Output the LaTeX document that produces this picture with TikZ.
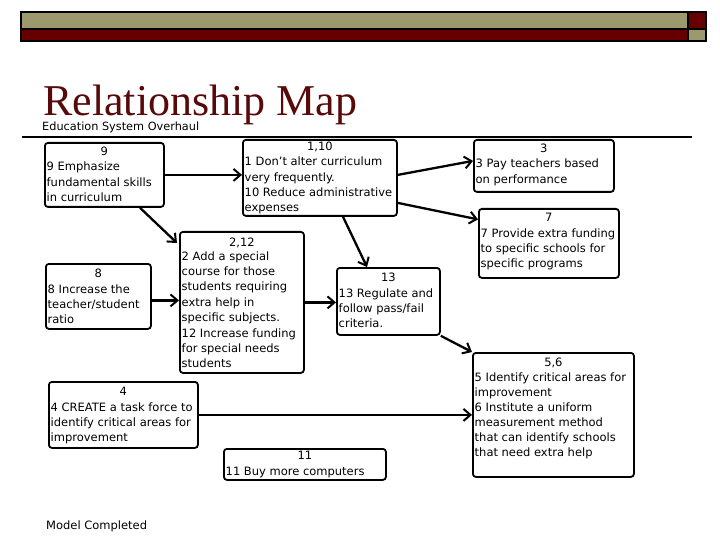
\documentclass[tikz,border=0pt]{standalone}
\usepackage{fontspec}
\setmainfont{DejaVu Sans}
\newfontfamily\titlefont{Liberation Serif}
\usetikzlibrary{arrows.meta}
\definecolor{bannerolive}{HTML}{9C9A6C}
\definecolor{bannerred}{HTML}{660000}
\definecolor{titlered}{HTML}{580A0A}
\newcommand\mybox[5]{\node[bx,anchor=north west,minimum width=#4pt,minimum height=#5pt,inner sep=0pt] (#1) at (#2,#3) {};}
\begin{document}
\begin{tikzpicture}[x=1pt,y=-1pt,
  bx/.style={draw=black,line width=1.8pt,rounded corners=3pt},
  lbl/.style={inner sep=0pt,font=\fontsize{11.5}{14}\selectfont},
  blbl/.style={lbl,yshift=-2pt},
  conn/.style={line width=2.3pt,-{Straight Barb[length=7pt,width=12pt,line width=2pt]}}]
\useasboundingbox (0,0) rectangle (720,540);
\fill[white] (0,0) rectangle (720,540);
% banner
\fill[bannerolive] (21,12) rectangle (688,29);
\fill[bannerred] (21,29) rectangle (688,41);
\fill[bannerred] (688,12) rectangle (706,29);
\fill[bannerolive] (688,29) rectangle (706,41);
\draw[line width=1.2pt] (21,12) rectangle (706,41);
\draw[line width=1.2pt] (21,29) -- (706,29) (688,12) -- (688,41);
% title
\node[anchor=base west,inner sep=0pt,text depth=0pt,font=\titlefont\fontsize{44}{48}\selectfont,text=titlered] (title) at (43,116) {Relationship Map};
\node[anchor=base west,inner sep=0pt,font=\fontsize{11.3}{13}\selectfont] (sub) at (42,130.5) {Education System Overhaul};
\draw[line width=1.6pt] (22,137) -- (692,137);
% boxes
\mybox{b9}{44}{142}{119}{64}
\mybox{b110}{242}{139}{154}{76}
\mybox{b3}{473}{139}{140}{52}
\mybox{b7}{478}{208}{140}{69}
\mybox{b8}{45}{263}{105}{65}
\mybox{b212}{179}{231}{124}{141}
\mybox{b13}{336}{267}{103}{67}
\mybox{b4}{48}{381}{149}{66}
\mybox{b11}{223}{448}{162}{31}
\mybox{b56}{472}{352}{161}{124}
% headings
\node[blbl,anchor=base] (h9) at (b9.north |- 0,154) {9};
\node[blbl,anchor=base] (h110) at (b110.north |- 0,149) {1,10};
\node[blbl,anchor=base] (h3) at (b3.north |- 0,151) {3};
\node[blbl,anchor=base] (h7) at (b7.north |- 0,220) {7};
\node[blbl,anchor=base] (h8) at (b8.north |- 0,275) {8};
\node[blbl,anchor=base] (h212) at (b212.north |- 0,244) {2,12};
\node[blbl,anchor=base] (h13) at (b13.north |- 0,279) {13};
\node[blbl,anchor=base] (h4) at (b4.north |- 0,393) {4};
\node[blbl,anchor=base] (h11) at (b11.north |- 0,457) {11};
\node[blbl,anchor=base] (h56) at (b56.north |- 0,364) {5,6};
% body lines
\foreach \t [count=\i from 0] in {9 Emphasize,fundamental skills,in curriculum}
  \node[blbl,anchor=base west] (t9-\i) at (46.5,169+15.4*\i) {\t};
\foreach \t [count=\i from 0] in {1 Don't alter curriculum,very frequently.,10 Reduce administrative,expenses}
  \node[blbl,anchor=base west] (t110-\i) at (244.5,164+15.3*\i) {\t};
\foreach \t [count=\i from 0] in {3 Pay teachers based,on performance}
  \node[blbl,anchor=base west] (t3-\i) at (475.5,166+15.2*\i) {\t};
\foreach \t [count=\i from 0] in {7 Provide extra funding,to specific schools for,specific programs}
  \node[blbl,anchor=base west] (t7-\i) at (480.5,235+15.2*\i) {\t};
\foreach \t [count=\i from 0] in {8 Increase the,teacher/student,ratio}
  \node[blbl,anchor=base west] (t8-\i) at (47.5,291+15.4*\i) {\t};
\foreach \t [count=\i from 0] in {2 Add a special,course for those,students requiring,extra help in,specific subjects.,12 Increase funding,for special needs,students}
  \node[blbl,anchor=base west] (t212-\i) at (181.5,258+15.4*\i) {\t};
\foreach \t [count=\i from 0] in {13 Regulate and,follow pass/fail,criteria.}
  \node[blbl,anchor=base west] (t13-\i) at (338.5,295+15.4*\i) {\t};
\foreach \t [count=\i from 0] in {4 CREATE a task force to,identify critical areas for,improvement}
  \node[blbl,anchor=base west] (t4-\i) at (50.5,409+15.2*\i) {\t};
\node[blbl,anchor=base west] (t11-0) at (225.5,473) {11 Buy more computers};
\foreach \t [count=\i from 0] in {5 Identify critical areas for,improvement,6 Institute a uniform,measurement method,that can identify schools,that need extra help}
  \node[blbl,anchor=base west] (t56-\i) at (474.5,379+15.1*\i) {\t};
\node[lbl,anchor=base west] (model) at (46,529) {Model Completed};
% connectors
\draw[conn] (b9.east) -- (b9.east -| b110.west);
\draw[conn] ([xshift=96pt]b9.south west) -- ([xshift=-2pt,yshift=-12pt]b212.north west);
\draw[conn] ([yshift=3pt]b110.east) -- ([yshift=5pt]b3.west);
\draw[conn] ([yshift=-25pt]b110.east) -- ([yshift=24pt]b7.west);
\draw[conn] ([xshift=101pt]b110.south west) -- ([xshift=31pt]b13.north west);
\draw[conn] ([yshift=-4pt]b8.east) -- ([yshift=-4pt]b8.east -| b212.west);
\draw[conn] (b212.east) -- (b212.east -| b13.west);
\draw[conn] (b13.south east) -- (b56.north west);
\draw[conn] (b4.east) -- (b4.east -| b56.west);
\end{tikzpicture}
\end{document}
